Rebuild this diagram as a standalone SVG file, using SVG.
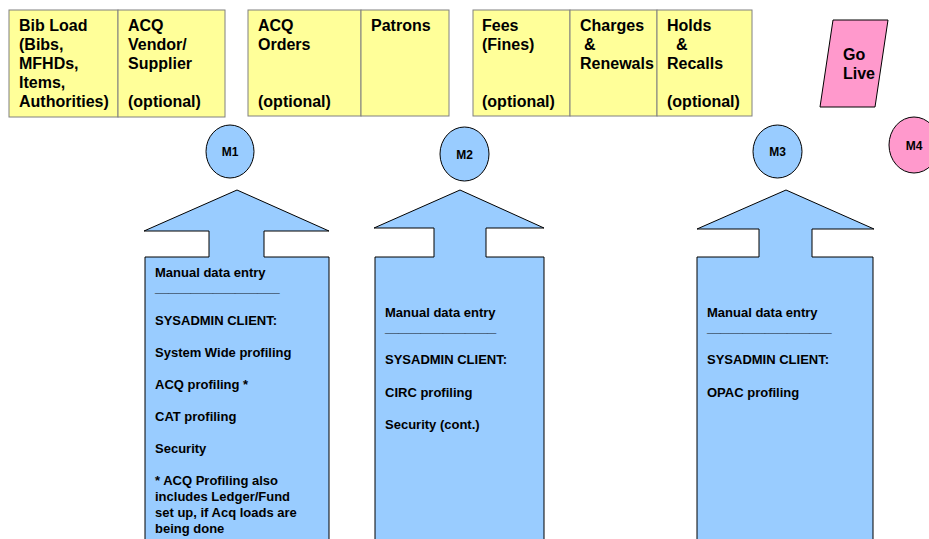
<svg xmlns="http://www.w3.org/2000/svg" width="929" height="539" viewBox="0 0 929 539">
<style>
.yb{fill:#FFFF99;stroke:#808080;stroke-width:1}
.t{font-family:"Liberation Sans",Arial,sans-serif;font-weight:bold;fill:#000}
.h{font-size:16px}
.s{font-size:13px}
.u{font-family:"Liberation Sans",Arial,sans-serif;font-size:8px;fill:#000}
.m{font-size:12px;text-anchor:middle}
.blue{fill:#99CCFF;stroke:#000;stroke-width:1}
.pink{fill:#FF99CC;stroke:#000;stroke-width:1}
</style>
<rect width="929" height="539" fill="#fff"/>
<g id="box-bibload">
<rect class="yb" x="9" y="10" width="109" height="107"/>
<text class="t h" x="19" y="31">Bib Load</text>
<text class="t h" x="19" y="50">(Bibs,</text>
<text class="t h" x="19" y="69">MFHDs,</text>
<text class="t h" x="19" y="88">Items,</text>
<text class="t h" x="19" y="107">Authorities)</text>
</g>
<g id="box-acqvendor">
<rect class="yb" x="118" y="10" width="107" height="107"/>
<text class="t h" x="128" y="31">ACQ</text>
<text class="t h" x="128" y="50">Vendor/</text>
<text class="t h" x="128" y="69">Supplier</text>
<text class="t h" x="128" y="107">(optional)</text>
</g>
<g id="box-acqorders">
<rect class="yb" x="248" y="10" width="113" height="106"/>
<text class="t h" x="258" y="31">ACQ</text>
<text class="t h" x="258" y="50">Orders</text>
<text class="t h" x="258" y="107">(optional)</text>
</g>
<g id="box-patrons">
<rect class="yb" x="361" y="10" width="88" height="106"/>
<text class="t h" x="371" y="31">Patrons</text>
</g>
<g id="box-fees">
<rect class="yb" x="473" y="10" width="97" height="106"/>
<text class="t h" x="482" y="31">Fees</text>
<text class="t h" x="482" y="50">(Fines)</text>
<text class="t h" x="482" y="107">(optional)</text>
</g>
<g id="box-charges">
<rect class="yb" x="570" y="10" width="87" height="106"/>
<text class="t h" x="580" y="31">Charges</text>
<text class="t h" x="584" y="50">&amp;</text>
<text class="t h" x="580" y="69">Renewals</text>
</g>
<g id="box-holds">
<rect class="yb" x="657" y="10" width="95" height="106"/>
<text class="t h" x="667" y="31">Holds</text>
<text class="t h" x="676" y="50">&amp;</text>
<text class="t h" x="667" y="69">Recalls</text>
<text class="t h" x="667" y="107">(optional)</text>
</g>
<g id="golive">
<polygon class="pink" points="833,20 888,20 875,107 820,107"/>
<text class="t h" x="843" y="60">Go</text>
<text class="t h" x="843" y="79">Live</text>
</g>
<g id="m1">
<ellipse class="blue" cx="230" cy="151.5" rx="24" ry="26.5"/>
<text class="t m" x="230" y="156">M1</text>
</g>
<g id="m2">
<ellipse class="blue" cx="464.5" cy="154" rx="24.5" ry="27"/>
<text class="t m" x="464.5" y="158.5">M2</text>
</g>
<g id="m3">
<ellipse class="blue" cx="777.5" cy="151.5" rx="24.5" ry="26.5"/>
<text class="t m" x="777.5" y="156">M3</text>
</g>
<g id="m4">
<ellipse class="pink" cx="914" cy="145" rx="25" ry="28"/>
<text class="t m" x="914" y="149.5">M4</text>
</g>
<g id="arrow1">
<path class="blue" d="M237,190 L329,231 L264,231 L264,257 L329,257 L329,545 L145,545 L145,257 L209,257 L209,231 L144,231 Z"/>
<text class="t s" x="155" y="277">Manual data entry</text>
<text class="u" x="155" y="292">____________________________</text>
<text class="t s" x="155" y="325">SYSADMIN CLIENT:</text>
<text class="t s" x="155" y="357">System Wide profiling</text>
<text class="t s" x="155" y="389">ACQ profiling *</text>
<text class="t s" x="155" y="421">CAT profiling</text>
<text class="t s" x="155" y="453">Security</text>
<text class="t s" x="155" y="485">* ACQ Profiling also</text>
<text class="t s" x="155" y="501">includes Ledger/Fund</text>
<text class="t s" x="155" y="517">set up, if Acq loads are</text>
<text class="t s" x="155" y="533">being done</text>
</g>
<g id="arrow2">
<path class="blue" d="M460,190 L544,228 L486,228 L486,257 L544,257 L544,545 L375,545 L375,257 L434,257 L434,228 L374,228 Z"/>
<text class="t s" x="385" y="317">Manual data entry</text>
<text class="u" x="385" y="332">_________________________</text>
<text class="t s" x="385" y="364">SYSADMIN CLIENT:</text>
<text class="t s" x="385" y="397">CIRC profiling</text>
<text class="t s" x="385" y="429">Security (cont.)</text>
</g>
<g id="arrow3">
<path class="blue" d="M786,190 L874,229 L812,229 L812,257 L873,257 L873,545 L697,545 L697,257 L759,257 L759,229 L697,229 Z"/>
<text class="t s" x="707" y="317">Manual data entry</text>
<text class="u" x="707" y="332">____________________________</text>
<text class="t s" x="707" y="364">SYSADMIN CLIENT:</text>
<text class="t s" x="707" y="397">OPAC profiling</text>
</g>
<g id="connectors"></g>
</svg>
